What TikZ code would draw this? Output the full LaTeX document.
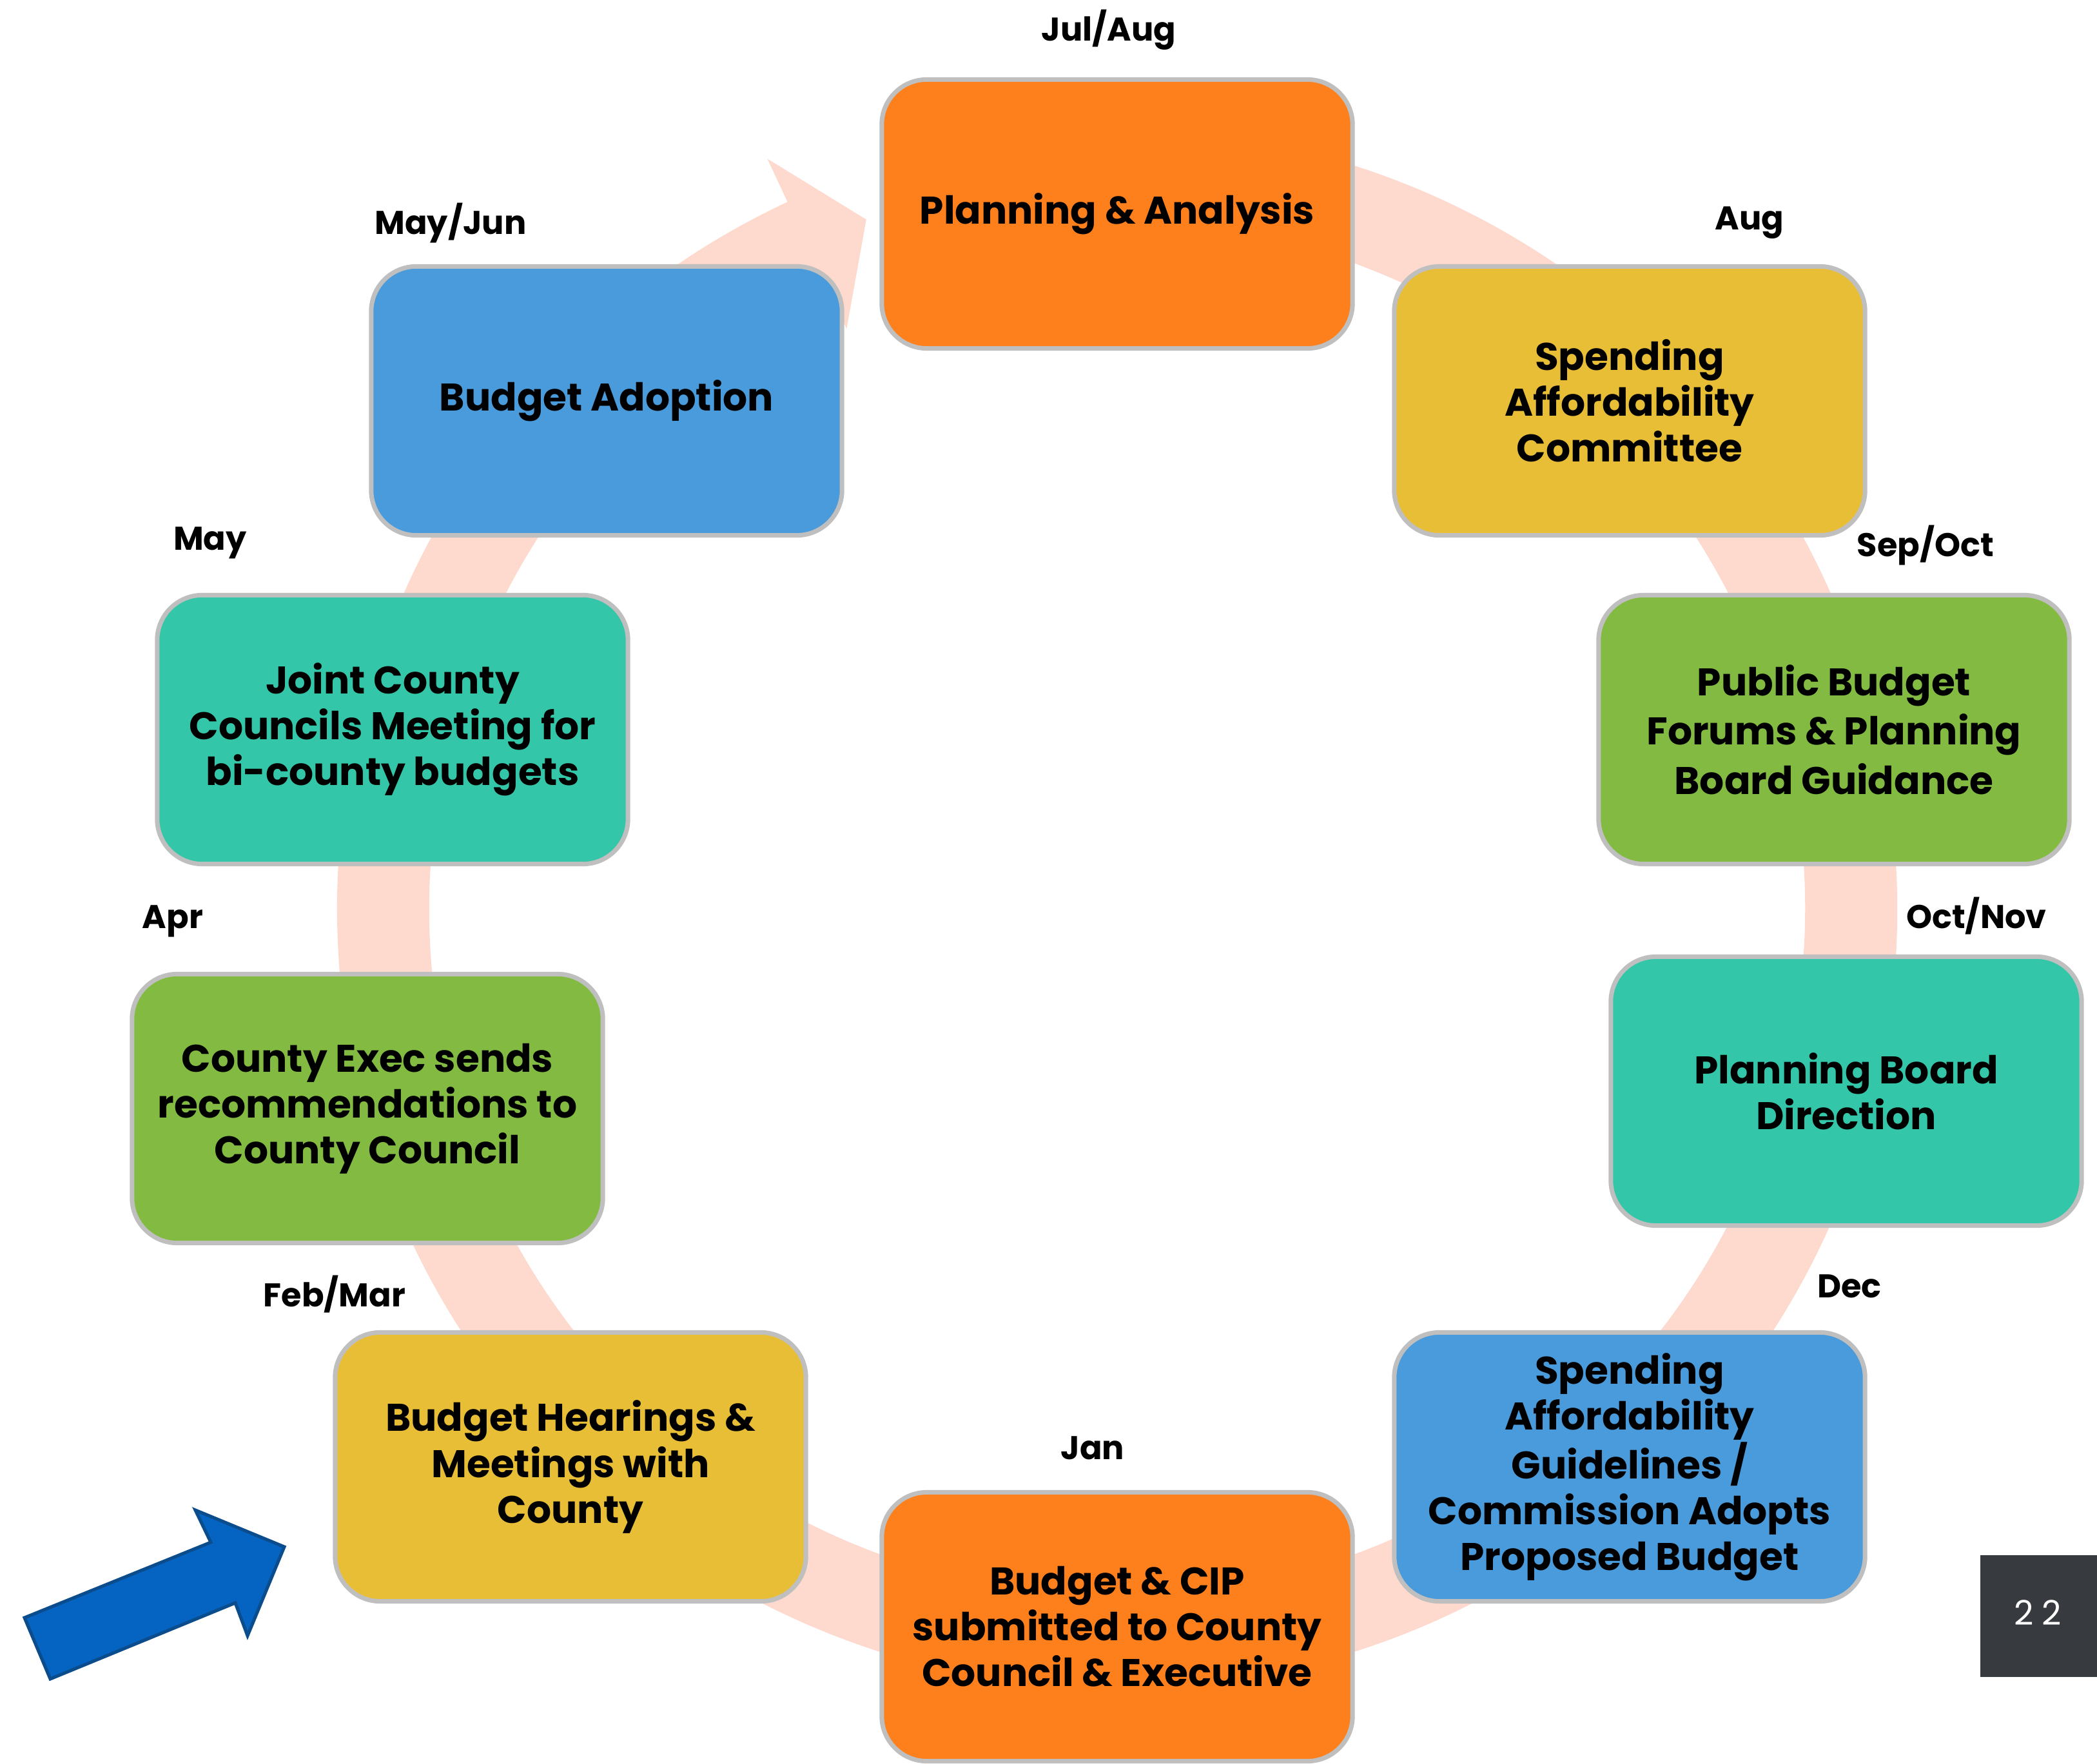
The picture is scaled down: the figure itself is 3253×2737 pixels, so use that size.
\documentclass[tikz,border=0pt]{standalone}
\usepackage{fontspec}
\setmainfont{Poppins}
\definecolor{cOrange}{HTML}{FD801C}
\definecolor{cGold}{HTML}{E8BE36}
\definecolor{cGreen}{HTML}{83BB42}
\definecolor{cTeal}{HTML}{33C6A8}
\definecolor{cBlue}{HTML}{4A9BDB}
\definecolor{ringPink}{HTML}{FDD9CE}
\definecolor{boxGray}{HTML}{BFBFBF}
\definecolor{arrBlue}{HTML}{0563C1}
\definecolor{arrEdge}{HTML}{0B4C8C}
\definecolor{pageBox}{HTML}{373A3E}
\newcommand\boxfont{\fontsize{17}{20.2}\selectfont\bfseries}
\newcommand\monthfont{\fontsize{14.5}{17}\selectfont\bfseries}
\tikzset{
  stagebox/.style={draw=boxGray, line width=0.07cm, rounded corners=0.7cm,
    minimum width=7.30cm, minimum height=4.17cm, align=center, font=\boxfont,
    inner sep=0pt, text=black},
  monthlbl/.style={font=\monthfont, text=black, inner sep=0pt}
}
\begin{document}
\begin{tikzpicture}[x=0.01cm,y=-0.01cm]
\useasboundingbox (0,0) rectangle (3253,2737);
% circular arrow
\begin{scope}[shift={(1733,1410)}, yscale=-1]
  \fill[ringPink] (100:1067) -- (100:1210)
    arc[start angle=100, end angle=-245, radius=1210]
    -- (-245:1284) -- (-250:1138) -- (-245:993) -- (-245:1067)
    arc[start angle=-245, end angle=100, radius=1067] -- cycle;
\end{scope}
% stages
\node[stagebox, fill=cOrange] (s1) at (1733,332) {Planning \& Analysis};
\node[stagebox, fill=cGold]   (s2) at (2528,622) {Spending\\Affordability\\Committee};
\node[stagebox, fill=cGreen, font=\fontsize{17}{21.8}\selectfont\bfseries] (s3) at (2845,1132) {Public Budget\\Forums \& Planning\\Board Guidance};
\node[stagebox, fill=cTeal]   (s4) at (2864,1693) {Planning Board\\Direction};
\node[stagebox, fill=cBlue]   (s5) at (2528,2276) {Spending\\Affordability\\Guidelines /\\Commission Adopts\\Proposed Budget};
\node[stagebox, fill=cOrange] (s6) at (1733,2524) {Budget \& CIP\\submitted to County\\Council \& Executive};
\node[stagebox, fill=cGold]   (s7) at (885,2276) {Budget Hearings \&\\Meetings with\\County};
\node[stagebox, fill=cGreen]  (s8) at (570,1720) {County Exec sends\\recommendations to\\County Council};
\node[stagebox, fill=cTeal]   (s9) at (609,1132) {Joint County\\Councils Meeting for\\bi-county budgets};
\node[stagebox, fill=cBlue]   (s10) at (941,622) {Budget Adoption};
% month labels
\node[monthlbl] (m1) at (1720,46) {Jul/Aug};
\node[monthlbl] (m2) at (2714,346) {Aug};
\node[monthlbl] (m3) at (2987,846) {Sep/Oct};
\node[monthlbl] (m4) at (3066,1421) {Oct/Nov};
\node[monthlbl] (m5) at (2869,1996) {Dec};
\node[monthlbl] (m6) at (1695,2247) {Jan};
\node[monthlbl] (m7) at (519,2008) {Feb/Mar};
\node[monthlbl] (m8) at (268,1429) {Apr};
\node[monthlbl] (m9) at (326,842) {May};
\node[monthlbl] (m10) at (699,346) {May/Jun};
% start arrow
\filldraw[fill=arrBlue, draw=arrEdge, line width=0.05cm, line join=miter]
  (38,2510) -- (327,2393) -- (303,2343) -- (441,2400) -- (384,2538) -- (365,2487) -- (78,2605) -- cycle;
% page number
\fill[pageBox] (3072,2413) rectangle (3253,2602);
\node[font=\fontsize{15}{18}\selectfont\addfontfeature{LetterSpace=25}, text=white, inner sep=0pt] (pg) at (3161,2502) {22};
\end{tikzpicture}
\end{document}
